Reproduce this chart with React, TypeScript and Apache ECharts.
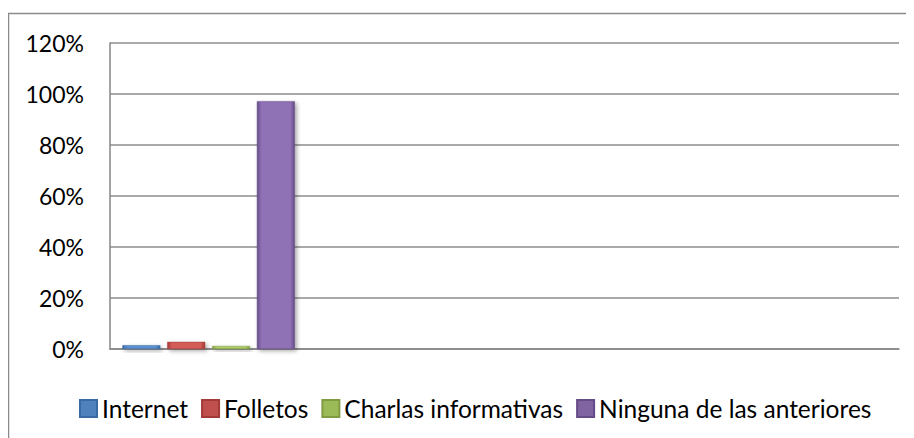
import React, { useEffect, useRef } from "react";
import * as echarts from "echarts";

const categories = ["", "", "", ""];
const seriesNames = ["Internet", "Folletos", "Charlas informativas", "Ninguna de las anteriores"];
const internetValues = [0.015, null, null, null];
const folletosValues = [0.028, null, null, null];
const charlasValues = [0.012, null, null, null];
const ningunaValues = [0.972, null, null, null];
const yTicks = [0, 0.2, 0.4, 0.6, 0.8, 1.0, 1.2];

const colors = [
  ["#3a6aa3", "#5a8fd0", "#3a6aa3"],
  ["#a23a37", "#d45c58", "#a23a37"],
  ["#7f9c42", "#a9cc64", "#7f9c42"],
  ["#654c87", "#8f72b5", "#654c87"],
];
const legendColors = ["#4F81BD", "#C0504D", "#9BBB59", "#8064A2"];

function grad(c: string[]) {
  return new echarts.graphic.LinearGradient(0, 0, 1, 0, [
    { offset: 0, color: c[0] },
    { offset: 0.12, color: c[1] },
    { offset: 0.88, color: c[1] },
    { offset: 1, color: c[2] },
  ]);
}

export default function App() {
  const ref = useRef<HTMLDivElement>(null);
  useEffect(() => {
    if (!ref.current) return;
    const chart = echarts.init(ref.current, null, { renderer: "svg" });
    const dataSets = [internetValues, folletosValues, charlasValues, ningunaValues];
    const font = "Lato, 'Open Sans', sans-serif";
    chart.setOption({
      animation: false,
      graphic: [
        {
          type: "rect",
          shape: { x: 0.5, y: 5.5, width: 1200, height: 1200 },
          style: { fill: "none", stroke: "#8a8a8a", lineWidth: 1.5 },
          silent: true,
        },
      ],
      grid: { left: 102, right: 15, top: 35, bottom: 89, containLabel: false },
      legend: {
        left: 66,
        top: 383,
        itemWidth: 17,
        itemHeight: 17,
        itemGap: 13,
        icon: "rect",
        textStyle: { fontFamily: font, fontSize: 24.5, color: "#000" },
        data: seriesNames.map((n, i) => ({
          name: n,
          itemStyle: { color: legendColors[i] },
        })),
      },
      xAxis: {
        type: "category",
        data: categories,
        axisLine: { show: true, lineStyle: { color: "#868686", width: 1.5 } },
        axisTick: { show: false },
        axisLabel: { show: false },
      },
      yAxis: {
        type: "value",
        min: 0,
        max: 1.2,
        interval: 0.2,
        axisLine: { show: true, lineStyle: { color: "#868686", width: 1.5 } },
        axisTick: { show: false },
        splitLine: { lineStyle: { color: "#8c8c8c", width: 1.5 } },
        axisLabel: {
          margin: 26,
          fontFamily: font,
          fontSize: 23,
          color: "#000",
          formatter: (v: number) => {
            const idx = yTicks.findIndex((t) => Math.abs(t - v) < 1e-6);
            return idx >= 0 ? Math.round(yTicks[idx] * 100) + "%" : "";
          },
        },
      },
      series: dataSets.map((d, i) => ({
        name: seriesNames[i],
        type: "bar",
        data: d,
        barWidth: 38,
        barGap: "18%",
        itemStyle: {
          color: grad(colors[i]),
          borderColor: colors[i][0],
          borderWidth: 0.5,
          shadowColor: "rgba(0,0,0,0.35)",
          shadowBlur: 4,
          shadowOffsetX: 2,
          shadowOffsetY: 2,
        },
      })),
    });
    return () => chart.dispose();
  }, []);
  return <div ref={ref} style={{ width: 906, height: 430 }} />;
}
